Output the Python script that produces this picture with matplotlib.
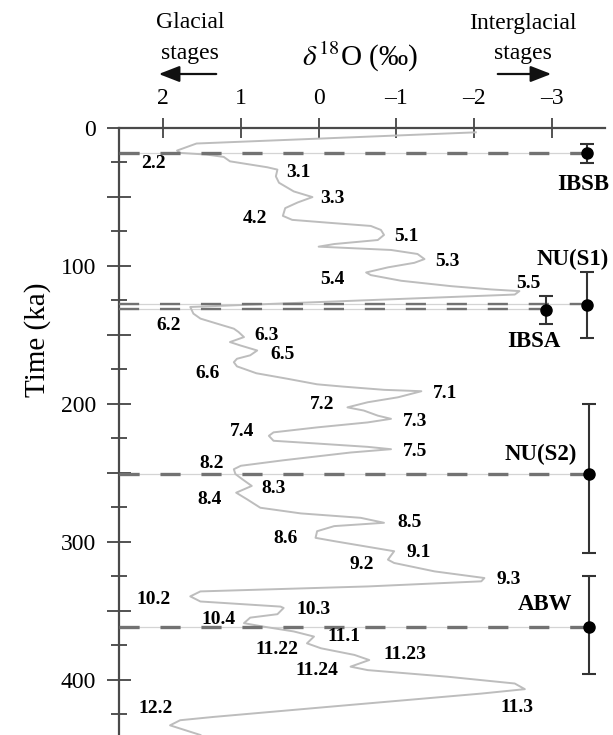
import matplotlib
matplotlib.use("Agg")
import matplotlib.pyplot as plt
from matplotlib.ticker import MultipleLocator, FuncFormatter

plt.rcParams['font.family'] = ['Liberation Serif', 'DejaVu Serif']
plt.rcParams['mathtext.fontset'] = 'stix'
plt.rcParams['lines.scale_dashes'] = False

# ---- data -------------------------------------------------------------
# d18O curve: time (ka) and d18O (permil)
curve_t = [3.5, 11.6, 16.7, 18.4, 19.6, 21.3, 24.5, 28.8, 30.5, 35.4, 40, 46.3, 50.4,
           54.3, 58.4, 64, 66.9, 69.3, 71.3, 74.2, 77.8, 81.5, 84.4, 86.3, 88.7, 91.6,
           95.3, 98, 101.3, 105, 106.9, 111, 114.9, 117.3, 118.5, 121, 130, 134.8,
           138.4, 142, 145.7, 148.1, 151.8, 155.4, 157.8, 161.5, 165, 167.5, 170, 173,
           178, 182, 186, 187.6, 190, 191, 195.4, 199, 202.7, 205, 208.7, 211, 213.6,
           217.2, 220.8, 223.3, 226.9, 228.9, 231.3, 233, 235.4, 241, 245, 247.5, 251,
           254.8, 259.6, 264.5, 269.3, 275.4, 279.5, 282.7, 286.3, 288.7, 292.4, 297.2,
           299.6, 306.9, 313, 315.4, 321.5, 326.3, 328.7, 332.4, 336, 339.6, 343.3,
           347, 348, 352.5, 355, 359, 361.5, 365, 368.7, 373.6, 377.2, 382, 385.7,
           390.5, 393, 397.8, 402.7, 406.8, 410, 418.4, 426.9, 429.3, 433, 440]
curve_d = [-2.02, 1.57, 1.82, 1.78, 1.44, 1.22, 1.14, 0.66, 0.53, 0.55, 0.51, 0.32, 0.08,
           0.27, 0.43, 0.46, 0.34, -0.2, -0.67, -0.8, -0.84, -0.76, -0.2, 0.0, -0.93, -1.27,
           -1.36, -1.23, -0.89, -0.61, -0.67, -1.06, -1.7, -2.22, -2.58, -2.52, 1.65, 1.61,
           1.52, 1.31, 1.09, 1.03, 0.96, 1.14, 1.01, 0.79, 0.88, 1.05, 1.09, 1.05,
           0.8, 0.4, 0.02, -0.3, -0.84, -1.32, -1.02, -0.63, -0.37, -0.58, -0.76, -0.93, -0.63,
           0.02, 0.58, 0.64, 0.58, 0.02, -0.63, -0.93, -0.41, 0.45, 1.0, 1.09, 1.07,
           0.98, 0.86, 1.06, 0.92, 0.75, 0.23, -0.54, -0.84, -0.2, 0.02, 0.04,
           -0.2, -0.97, -0.89, -0.97, -1.49, -2.13, -2.09, -0.63, 1.52, 1.65, 1.52,
           0.49, 0.45, 0.53, 0.88, 0.96, 0.71, 0.32, 0.06, 0.15, -0.03, -0.46, -0.65,
           -0.41, -0.63, -1.66, -2.52, -2.65, -2.09, -0.37, 1.35, 1.78, 1.91, 1.52]

# marine isotope stage labels: name, d18O position, time position
stage_names = ['2.2', '3.1', '3.3', '4.2', '5.1', '5.3', '5.4', '5.5', '6.2', '6.3', '6.5',
               '6.6', '7.1', '7.2', '7.3', '7.4', '7.5', '8.2', '8.3', '8.4', '8.5', '8.6',
               '9.1', '9.2', '9.3', '10.2', '10.3', '10.4', '11.1', '11.22', '11.23',
               '11.24', '11.3', '12.2']
stage_d = [2.12, 0.26, -0.17, 0.82, -1.13, -1.65, -0.18, -2.69, 1.93, 0.67, 0.47,
           1.43, -1.62, -0.05, -1.24, 0.99, -1.24, 1.37, 0.58, 1.40, -1.17, 0.42,
           -1.29, -0.55, -2.44, 2.12, 0.07, 1.29, -0.32, 0.53, -1.11,
           0.02, -2.55, 2.10]
stage_t = [25.9, 32.7, 51.3, 65.7, 78.6, 97.2, 109.9, 112.8, 143.7, 150.3, 164.7,
           178.0, 192.5, 200.9, 213.0, 220.3, 234.8, 243.7, 261.3, 269.7, 286.2, 297.5,
           307.8, 316.8, 327.7, 342.1, 348.9, 356.1, 368.7, 378.4, 382.0,
           393.6, 419.8, 420.6]

# dated surfaces: name, x position (d18O axis units), age, -err, +err
site_names = ['IBSB', 'IBSA', 'NU(S1)', 'NU(S2)', 'ABW']
site_x = [-3.45, -2.92, -3.45, -3.47, -3.47]
site_age = [18.8, 132.0, 128.5, 251.0, 361.5]
site_err_lo = [7, 10, 24, 50.5, 37]
site_err_hi = [7, 10, 24, 57, 34]
site_line_t = [18.5, 131.5, 128.0, 251.0, 361.5]
site_lw = [2.4, 1.7, 1.7, 2.4, 2.4]
site_label_d = [-3.40, -2.76, -3.27, -2.85, -2.91]
site_label_t = [41.6, 155.1, 95.4, 237.1, 345.8]

xticks = [2, 1, 0, -1, -2, -3]
xticklabels = ['2', '1', '0', '\u20131', '\u20132', '\u20133']
yticks_labeled = [0, 100, 200, 300, 400]

# ---- figure -----------------------------------------------------------
W, H = 613, 735
fig = plt.figure(figsize=(W / 100, H / 100), dpi=100)
ax_left, ax_right, ax_top = 119, 605, 127.5
ax = fig.add_axes([ax_left / W, 0, (ax_right - ax_left) / W, (H - ax_top) / H])
ax.set_xlim(2.566, -3.68)
ax.set_ylim(440, 0)

for s in ['right', 'bottom']:
    ax.spines[s].set_visible(False)
for s in ['left', 'top']:
    ax.spines[s].set_color('#4a4a4a')
    ax.spines[s].set_linewidth(1.6)

ax.xaxis.tick_top()
ax.set_xticks(xticks)
ax.set_xticklabels(xticklabels, fontsize=17)
ax.tick_params(axis='x', direction='inout', length=15, width=1.3, color='#444', pad=6)

ax.yaxis.set_major_locator(MultipleLocator(50))
ax.yaxis.set_minor_locator(MultipleLocator(25))
ax.yaxis.set_major_formatter(FuncFormatter(
    lambda v, p: f'{int(v)}' if int(round(v)) in yticks_labeled else ''))
ax.tick_params(axis='y', which='major', direction='inout', length=17, width=1.3,
               color='#444', labelsize=17, pad=8)
ax.tick_params(axis='y', which='minor', direction='inout', length=11, width=1.3,
               color='#444')

# curve
ax.plot(curve_d, curve_t, color='#bdbdbd', lw=1.4, zorder=2)

# dated horizons
x0 = ax.get_xlim()[0]
for x, t, lw in zip(site_x, site_line_t, site_lw):
    ax.plot([x0, x], [t, t], color='#d4d4d4', lw=0.9, zorder=1)
    ax.plot([x0, x], [t, t], color='#727272', lw=lw, dashes=(14.5, 15), zorder=3,
            solid_capstyle='butt', dash_capstyle='butt')

ax.errorbar(site_x, site_age, yerr=[site_err_lo, site_err_hi], fmt='o', color='black',
            ms=8, ecolor='#333333', elinewidth=1.5, capsize=5, capthick=1.5, zorder=5,
            clip_on=False)

for name, d, t in zip(stage_names, stage_d, stage_t):
    ax.text(d, t, name, fontsize=14, fontweight='bold', ha='center', va='center',
            zorder=6)
for name, d, t in zip(site_names, site_label_d, site_label_t):
    ax.text(d, t, name, fontsize=16.5, fontweight='bold', ha='center', va='center',
            zorder=6)

# axis titles
fig.text(38 / W, 1 - 340 / H, 'Time (ka)', rotation=90, fontsize=21,
         ha='center', va='center')
fig.text(360 / W, 1 - 57 / H, r'$\delta^{18}$O (‰)', fontsize=21, ha='center',
         va='center')
fig.text(190 / W, 1 - 23 / H, 'Glacial', fontsize=17, ha='center', va='center')
fig.text(190 / W, 1 - 53 / H, 'stages', fontsize=17, ha='center', va='center')
fig.text(523 / W, 1 - 23 / H, 'Interglacial', fontsize=17, ha='center', va='center')
fig.text(523 / W, 1 - 53 / H, 'stages', fontsize=17, ha='center', va='center')
arrow_kw = dict(arrowstyle='-|>,head_length=0.9,head_width=0.35', color='#111',
                lw=1.6, mutation_scale=14)
fig.add_artist(matplotlib.patches.FancyArrowPatch((219 / W, 1 - 74 / H), (156 / W, 1 - 74 / H),
                                                  transform=fig.transFigure, **arrow_kw))
fig.add_artist(matplotlib.patches.FancyArrowPatch((495 / W, 1 - 74 / H), (554 / W, 1 - 74 / H),
                                                  transform=fig.transFigure, **arrow_kw))

fig.savefig('out.png', dpi=100, facecolor='white')
